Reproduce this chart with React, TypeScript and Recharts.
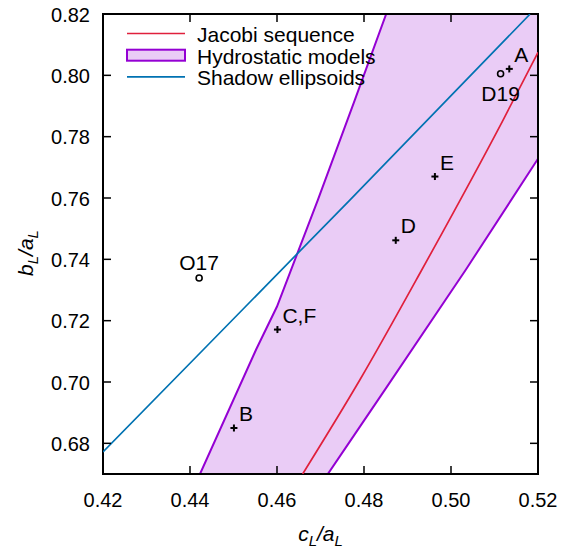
import React from "react";
import {
  ComposedChart,
  XAxis,
  YAxis,
  Line,
  Area,
  Scatter,
  Legend,
  ReferenceArea,
} from "recharts";

const WIDTH = 578;
const HEIGHT = 548;
const PLOT = { left: 103, top: 14, right: 538, bottom: 474 };
const FONT = "'Liberation Sans', Arial, Helvetica, sans-serif";

const xTicks = [0.42, 0.44, 0.46, 0.48, 0.5, 0.52];
const yTicks = [0.68, 0.7, 0.72, 0.74, 0.76, 0.78, 0.8, 0.82];

// Jacobi sequence (red curve)
const jacobiC = [0.4659, 0.4791, 0.4933, 0.512, 0.52];
const jacobiB = [0.67, 0.7008, 0.7366, 0.7855, 0.8075];

// shadow ellipsoids (blue line)
const shadowC = [0.42, 0.4431, 0.4768, 0.5182, 0.52];
const shadowB = [0.6772, 0.7106, 0.7594, 0.82, 0.8226];

// hydrostatic models band (edges run past the frame and get clipped)
const bandC = [0.4423, 0.4552, 0.46, 0.4694, 0.4779, 0.4851, 0.5034, 0.52];
const bandLow = [0.6083, 0.6353, 0.6454, 0.6652, 0.683, 0.6981, 0.7366, 0.7728];
const bandHigh = [0.67, 0.7106, 0.7246, 0.7594, 0.792, 0.82, 0.8895, 0.9526];

// measured shapes, "+" markers
const sampleNames = ["A", "B", "C,F", "D", "E"];
const sampleC = [0.5134, 0.4501, 0.4601, 0.4873, 0.4963];
const sampleB = [0.8021, 0.685, 0.7171, 0.7462, 0.767];

// literature values, open circles
const refNames = ["O17", "D19"];
const refC = [0.4421, 0.5114];
const refB = [0.7339, 0.8005];
const refLabelSide = ["above", "below"];

const legendOrder = ["Jacobi sequence", "Hydrostatic models", "Shadow ellipsoids"];

const jacobiData = jacobiC.map((c, i) => ({ c, b: jacobiB[i] }));
const shadowData = shadowC.map((c, i) => ({ c, b: shadowB[i] }));
const bandData = bandC.map((c, i) => ({ c, range: [bandLow[i], bandHigh[i]] }));
const sampleData = sampleNames.map((name, i) => ({ name, c: sampleC[i], b: sampleB[i] }));
const refData = refNames.map((name, i) => ({
  name,
  c: refC[i],
  b: refB[i],
  side: refLabelSide[i],
}));

const textStyle = { fontFamily: FONT, fill: "#000" };

function XTick({ x, payload }: any) {
  return (
    <g>
      <line x1={x} x2={x} y1={PLOT.bottom} y2={PLOT.bottom - 8} stroke="#000" strokeWidth={1.5} />
      <line x1={x} x2={x} y1={PLOT.top} y2={PLOT.top + 8} stroke="#000" strokeWidth={1.5} />
      <text x={x} y={PLOT.bottom + 33} textAnchor="middle" fontSize={20} style={textStyle}>
        {Number(payload.value).toFixed(2)}
      </text>
    </g>
  );
}

function YTick({ y, payload }: any) {
  return (
    <g>
      <line x1={PLOT.left} x2={PLOT.left + 8} y1={y} y2={y} stroke="#000" strokeWidth={1.5} />
      <line x1={PLOT.right} x2={PLOT.right - 8} y1={y} y2={y} stroke="#000" strokeWidth={1.5} />
      <text x={PLOT.left - 13} y={y + 7.5} textAnchor="end" fontSize={20} style={textStyle}>
        {Number(payload.value).toFixed(2)}
      </text>
    </g>
  );
}

function CrossMark({ cx, cy, payload }: any) {
  return (
    <g>
      <line x1={cx - 3.5} x2={cx + 3.5} y1={cy} y2={cy} stroke="#000" strokeWidth={2} />
      <line x1={cx} x2={cx} y1={cy - 3.5} y2={cy + 3.5} stroke="#000" strokeWidth={2} />
      <text x={cx + 5} y={cy - 7} fontSize={21} style={textStyle}>
        {payload.name}
      </text>
    </g>
  );
}

function CircleMark({ cx, cy, payload }: any) {
  const dy = payload.side === "above" ? -8 : 27;
  return (
    <g>
      <circle cx={cx} cy={cy} r={3} fill="none" stroke="#000" strokeWidth={1.6} />
      <text x={cx} y={cy + dy} textAnchor="middle" fontSize={21} style={textStyle}>
        {payload.name}
      </text>
    </g>
  );
}

function LegendBox({ payload }: any) {
  const items = legendOrder
    .map((name) => (payload || []).find((p: any) => p.value === name))
    .filter(Boolean);
  return (
    <svg width={WIDTH} height={100} style={{ display: "block" }}>
      {items.map((p: any, i: number) => {
        const base = 42 + i * 21.7;
        const mid = base - 8.5;
        const src = p.payload || {};
        return (
          <g key={p.value}>
            {p.type === "rect" ? (
              <rect
                x={127}
                y={mid - 5.5}
                width={58}
                height={11}
                fill={src.fill}
                fillOpacity={src.fillOpacity}
                stroke={src.stroke}
                strokeWidth={2}
              />
            ) : (
              <line x1={127} x2={185} y1={mid} y2={mid} stroke={src.stroke} strokeWidth={1.7} />
            )}
            <text x={197} y={base} fontSize={21} style={textStyle}>
              {p.value}
            </text>
          </g>
        );
      })}
    </svg>
  );
}

function XTitle() {
  const cx = (PLOT.left + PLOT.right) / 2;
  return (
    <text x={cx} y={541} textAnchor="middle" fontSize={21} fontStyle="italic" style={textStyle}>
      c
      <tspan fontSize={15} dy={5}>L</tspan>
      <tspan dy={-5}>/a</tspan>
      <tspan fontSize={15} dy={5}>L</tspan>
    </text>
  );
}

function YTitle() {
  return (
    <text
      x={33}
      y={253}
      textAnchor="middle"
      fontSize={21}
      fontStyle="italic"
      transform="rotate(-90 33 253)"
      style={textStyle}
    >
      b
      <tspan fontSize={15} dy={5}>L</tspan>
      <tspan dy={-5}>/a</tspan>
      <tspan fontSize={15} dy={5}>L</tspan>
    </text>
  );
}

export default function App() {
  return (
    <div style={{ position: "absolute", left: 0, top: 0, background: "#fff" }}>
      <ComposedChart
        width={WIDTH}
        height={HEIGHT}
        margin={{ top: PLOT.top, right: WIDTH - PLOT.right, left: 0, bottom: 0 }}
      >
        <XAxis
          dataKey="c"
          type="number"
          domain={[0.42, 0.52]}
          allowDataOverflow
          ticks={xTicks}
          tick={XTick}
          axisLine={false}
          tickLine={false}
          height={HEIGHT - PLOT.bottom}
          label={{ content: XTitle }}
        />
        <YAxis
          type="number"
          domain={[0.67, 0.82]}
          allowDataOverflow
          ticks={yTicks}
          tick={YTick}
          axisLine={false}
          tickLine={false}
          width={PLOT.left}
          label={{ content: YTitle }}
        />
        <Area
          name="Hydrostatic models"
          data={bandData}
          dataKey="range"
          type="linear"
          fill="#9400d3"
          fillOpacity={0.2}
          stroke="#9400d3"
          strokeWidth={2}
          legendType="rect"
          isAnimationActive={false}
        />
        <Line
          name="Jacobi sequence"
          data={jacobiData}
          dataKey="b"
          type="monotone"
          stroke="#e0203c"
          strokeWidth={1.7}
          dot={false}
          legendType="line"
          isAnimationActive={false}
        />
        <Line
          name="Shadow ellipsoids"
          data={shadowData}
          dataKey="b"
          type="linear"
          stroke="#0072b2"
          strokeWidth={1.7}
          dot={false}
          legendType="line"
          isAnimationActive={false}
        />
        <Scatter
          data={sampleData}
          dataKey="b"
          shape={CrossMark}
          legendType="none"
          isAnimationActive={false}
        />
        <Scatter
          data={refData}
          dataKey="b"
          shape={CircleMark}
          legendType="none"
          isAnimationActive={false}
        />
        <ReferenceArea
          x1={0.42}
          x2={0.52}
          y1={0.67}
          y2={0.82}
          fill="none"
          stroke="#000"
          strokeWidth={2}
          ifOverflow="visible"
        />
        <Legend
          layout="horizontal"
          verticalAlign="middle"
          align="center"
          content={LegendBox}
          wrapperStyle={{ position: "absolute", left: 0, top: 0, width: WIDTH, height: 100, pointerEvents: "none" }}
        />
      </ComposedChart>
    </div>
  );
}
